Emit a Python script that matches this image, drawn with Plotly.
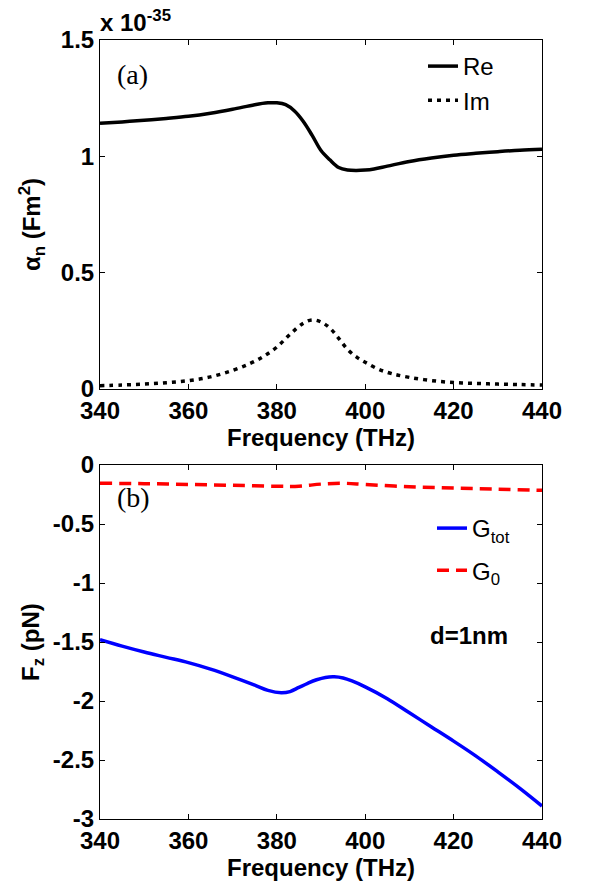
import plotly.graph_objects as go

# ---- data (top panel: polarizability, units 1e-35 F m^2) ----
freq_re = [340, 345, 350, 355, 360, 365, 370, 375, 378, 380, 382, 384, 386, 388, 390,
           392, 394, 396, 398, 400, 402, 405, 410, 415, 420, 425, 430, 435, 440]
alpha_re = [1.142, 1.148, 1.155, 1.163, 1.172, 1.185, 1.202, 1.222, 1.230, 1.230, 1.222,
            1.195, 1.150, 1.090, 1.025, 0.985, 0.952, 0.941, 0.939, 0.941, 0.946, 0.958,
            0.978, 0.993, 1.005, 1.013, 1.020, 1.026, 1.030]

freq_im = [340, 345, 350, 355, 360, 365, 370, 374, 377, 380, 383, 386, 388, 390, 392,
           394, 396, 398, 400, 403, 406, 410, 415, 420, 425, 430, 435, 440]
alpha_im = [0.014, 0.017, 0.021, 0.027, 0.036, 0.052, 0.080, 0.110, 0.140, 0.180, 0.235,
            0.283, 0.297, 0.288, 0.262, 0.218, 0.170, 0.138, 0.115, 0.085, 0.066, 0.050,
            0.036, 0.028, 0.024, 0.021, 0.019, 0.017]

# ---- data (bottom panel: force, pN) ----
freq_gtot = [340, 345, 350, 355, 360, 365, 370, 375, 378, 381, 383, 385, 387, 389, 391,
             393, 395, 397, 400, 405, 410, 415, 420, 425, 430, 435, 440]
f_gtot = [-1.48, -1.535, -1.585, -1.63, -1.675, -1.73, -1.795, -1.865, -1.91, -1.93,
          -1.92, -1.885, -1.85, -1.82, -1.80, -1.795, -1.805, -1.83, -1.88, -1.98, -2.10,
          -2.22, -2.34, -2.465, -2.60, -2.74, -2.89]

freq_g0 = [340, 350, 360, 370, 380, 385, 390, 395, 400, 410, 420, 430, 440]
f_g0 = [-0.155, -0.158, -0.165, -0.172, -0.18, -0.18, -0.162, -0.155, -0.165, -0.185,
        -0.195, -0.205, -0.215]

x_ticks = [340, 360, 380, 400, 420, 440]
x_ticktext = ["340", "360", "380", "400", "420", "440"]
y1_ticks = [0, 0.5, 1, 1.5]
y1_ticktext = ["0", "0.5", "1", "1.5"]
y2_ticks = [0, -0.5, -1, -1.5, -2, -2.5, -3]
y2_ticktext = ["0", "-0.5", "-1", "-1.5", "-2", "-2.5", "-3"]

W, H = 602, 882
FONT = "Liberation Sans, Arial, sans-serif"
FS = 24

fig = go.Figure()
fig.add_trace(go.Scatter(x=freq_re, y=alpha_re, mode="lines", name="Re",
                         line=dict(color="black", width=3.5, shape="spline"),
                         xaxis="x", yaxis="y", legend="legend"))
fig.add_trace(go.Scatter(x=freq_im, y=alpha_im, mode="lines", name="Im",
                         line=dict(color="black", width=3.5, dash="4px,5px", shape="spline"),
                         xaxis="x", yaxis="y", legend="legend"))
fig.add_trace(go.Scatter(x=freq_gtot, y=f_gtot, mode="lines", name="G<sub>tot</sub>",
                         line=dict(color="#0000ff", width=3.5, shape="spline"),
                         xaxis="x2", yaxis="y2", legend="legend2", legendgroup="a"))
fig.add_trace(go.Scatter(x=freq_g0, y=f_g0, mode="lines", name="G<sub>0</sub>",
                         line=dict(color="#ff0000", width=3.5, dash="12px,7px", shape="spline"),
                         xaxis="x2", yaxis="y2", legend="legend2", legendgroup="b"))

xd = [100 / W, 542 / W]
axis_common = dict(showgrid=False, zeroline=False, showline=True, linecolor="black",
                   linewidth=1, mirror="ticks", ticks="inside", ticklen=5, tickcolor="black",
                   automargin=False,
                   tickfont=dict(family=FONT, size=FS, color="black", weight="bold"))

fig.update_layout(
    width=W, height=H, margin=dict(l=0, r=0, t=0, b=0),
    paper_bgcolor="white", plot_bgcolor="white",
    xaxis=dict(domain=xd, range=[340, 440], anchor="y", tickvals=x_ticks, ticktext=x_ticktext,
               title=dict(text="Frequency (THz)", standoff=2,
                          font=dict(family=FONT, size=FS, color="black", weight="bold")),
               **axis_common),
    yaxis=dict(domain=[1 - 389 / H, 1 - 40 / H], range=[0, 1.5], anchor="x",
               tickvals=y1_ticks, ticktext=y1_ticktext, **axis_common),
    xaxis2=dict(domain=xd, range=[340, 440], anchor="y2", tickvals=x_ticks, ticktext=x_ticktext,
                title=dict(text="Frequency (THz)", standoff=6,
                           font=dict(family=FONT, size=FS, color="black", weight="bold")),
                **axis_common),
    yaxis2=dict(domain=[1 - 819 / H, 1 - 465 / H], range=[-3, 0], anchor="x2",
                tickvals=y2_ticks, ticktext=y2_ticktext, **axis_common),
    showlegend=True,
    legend=dict(x=423 / W, y=1 - 44 / H, xanchor="left", yanchor="top",
                bgcolor="rgba(0,0,0,0)", font=dict(family=FONT, size=FS, color="black")),
    legend2=dict(x=432 / W, y=1 - 506 / H, xanchor="left", yanchor="top",
                 bgcolor="rgba(0,0,0,0)", traceorder="grouped", tracegroupgap=8,
                 font=dict(family=FONT, size=FS, color="black")),
)

ann = [
    dict(text="α<sub>n</sub> (Fm<sup>2</sup>)", x=32 / W, y=1 - 225 / H, textangle=-90),
    dict(text="F<sub>z</sub> (pN)", x=32 / W, y=1 - 642 / H, textangle=-90),
]
for a in ann:
    fig.add_annotation(xref="paper", yref="paper", showarrow=False, xanchor="center",
                       yanchor="middle", font=dict(family=FONT, size=FS, color="black",
                                                   weight="bold"), **a)

fig.add_annotation(xref="paper", yref="paper", showarrow=False, x=98 / W, y=1 - 38 / H,
                   xanchor="left", yanchor="bottom", text="x 10<sup>-35</sup>",
                   font=dict(family=FONT, size=FS, color="black", weight="bold"))
fig.add_annotation(xref="paper", yref="paper", showarrow=False, x=115 / W, y=1 - 75 / H,
                   xanchor="left", yanchor="middle", text="(a)",
                   font=dict(family="Liberation Serif, Times New Roman, serif", size=28,
                             color="black"))
fig.add_annotation(xref="paper", yref="paper", showarrow=False, x=115 / W, y=1 - 497 / H,
                   xanchor="left", yanchor="middle", text="(b)",
                   font=dict(family="Liberation Serif, Times New Roman, serif", size=28,
                             color="black"))
fig.add_annotation(xref="paper", yref="paper", showarrow=False, x=469 / W, y=1 - 635 / H,
                   xanchor="center", yanchor="middle", text="d=1nm",
                   font=dict(family=FONT, size=FS, color="black", weight="bold"))

fig.write_html("out.html")
